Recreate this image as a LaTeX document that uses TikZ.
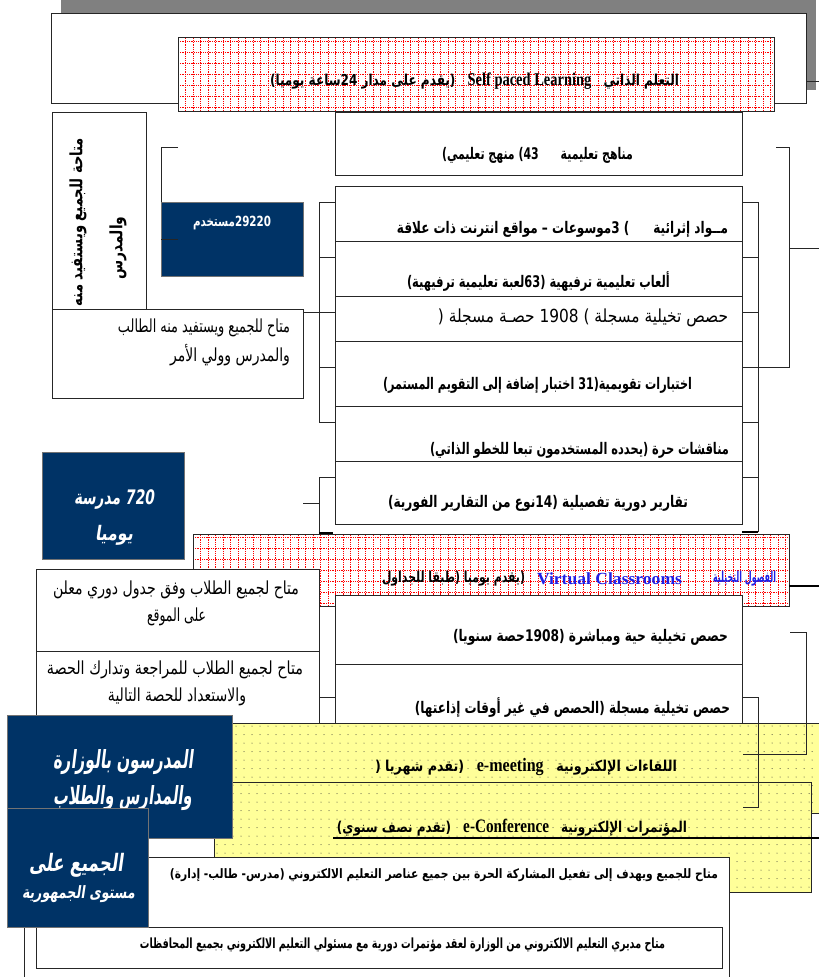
\documentclass[tikz,border=0pt]{standalone}
\usepackage{fontspec}
\usepackage{graphicx}
\usetikzlibrary{fit}
\TeXXeTstate=1
\newfontfamily\arab[Script=Arabic]{DejaVu Sans}
\newfontfamily\arabsl[Script=Arabic,FakeSlant=0.2]{DejaVu Sans Bold}
\newfontfamily\latserif{Liberation Serif}
\newcommand\RL[1]{\beginR #1\endR}
\newcommand\LR[1]{\beginL{#1}\endL{}}
% scale a line of text to a given width, keeping its height
\newcommand\fitw[2]{\resizebox{#1pt}{\height}{#2}}
% bold, regular and slanted Arabic lines: width, size, text
\newcommand\arb[3]{\fitw{#1}{\fontsize{#2}{#2}\arab\bfseries\RL{#3}}}
\newcommand\arr[3]{\fitw{#1}{\fontsize{#2}{#2}\arab\RL{#3}}}
\newcommand\ars[3]{\fitw{#1}{\fontsize{#2}{#2}\arabsl\RL{#3}}}
\definecolor{navy}{RGB}{0,51,102}
\definecolor{paleyellow}{RGB}{255,255,153}
\definecolor{vcblue}{RGB}{30,30,230}

\begin{document}
\begin{tikzpicture}[x=1pt,y=-1pt,
  ln/.style={draw=black!85,line width=0.9pt},
  thickln/.style={draw=black,line width=1.6pt},
  box/.style={ln,fill=white,inner sep=0pt,outer sep=0pt},
  navybox/.style={draw=black!55,line width=0.8pt,fill=navy,inner sep=0pt,outer sep=0pt},
  gridln/.style={red,line width=0.5pt,dash pattern=on 0.9pt off 0.9pt},
  redbox/.style={box,path picture={\draw[gridln,xstep=7.5pt,ystep=11pt]
      (path picture bounding box.south west) grid (path picture bounding box.north east);}},
  yelbox/.style={ln,fill=paleyellow,inner sep=0pt,outer sep=0pt,
    path picture={\foreach \i in {0,...,76}{\foreach \j in {0,...,13}{
      \fill[black!80] ([xshift=\i*8pt+3pt,yshift=-\j*8.5pt-3pt]path picture bounding box.north west) circle (0.5pt);}}}},
  shadowbox/.style={fill=black!50,inner sep=0pt,outer sep=0pt},
  txt/.style={inner sep=0pt,outer sep=0pt},
  wtxt/.style={txt,text=white}]
\useasboundingbox (0,0) rectangle (819,977);

% ---------- heading: self paced learning ----------
\node[shadowbox,fit={(61,-4) (816,90)}] (shadow) {};
\node[box,fit={(51,13) (806,103)}] (outer) {};
\coordinate (outerR) at (819,81);
\draw[ln] (outer.east |- outerR) -- (outerR);
\node[redbox,fit={(178,37) (774,111)}] (title) {};
\node[txt] (titletx) at (474.5,81) {\fitw{409}{\fontsize{15}{16}\arab\bfseries\RL{التعلم الذاتي\quad\LR{\fontsize{18}{19}\latserif\bfseries Self paced Learning}\quad (يقدم على مدار 24ساعة يوميا)}}};

% ---------- content boxes ----------
\node[box,fit={(335,112) (742,175)}] (m0) {};
\node[txt] at (537.5,155) {\arb{191}{16}{مناهج تعليمية\qquad 43) منهج تعليمي)}};
\node[box,fit={(335,186) (742,241)}] (b1) {};
\node[txt] at (562.5,229) {\arb{331}{16}{مــواد إثرائية\qquad ) 3موسوعات – مواقع انترنت ذات علاقة}};
\node[box,fit={(335,241) (742,296)}] (b2) {};
\node[txt] at (538.5,282) {\arb{263}{16}{ألعاب تعليمية ترفيهية (63لعبة تعليمية ترفيهية)}};
\node[box,fit={(335,296) (742,341)}] (b3) {};
\node[txt] at (583,318) {\arr{290}{18}{حصص تخيلية مسجلة ) 1908 حصـة مسجلة (}};
\node[box,fit={(335,341) (742,406)}] (b4) {};
\node[txt] at (537.5,385) {\arb{309}{16}{اختبارات تقويمية(31 اختبار إضافة إلى التقويم المستمر)}};
\node[box,fit={(335,406) (742,461)}] (b5) {};
\node[txt] at (579.5,450) {\arb{299}{16}{مناقشات حرة (يحدده المستخدمون تبعا للخطو الذاتي)}};
\node[box,fit={(335,461) (742,524)}] (b6) {};
\node[txt] at (538,503) {\arb{300}{16}{تقارير دورية تفصيلية (14نوع من التقارير الفورية)}};

% right brackets
\coordinate (rbar) at (758,0);
\coordinate (obar) at (789,0);
\coordinate (otop) at (776,147);
\coordinate (obot) at (789,367);
\coordinate (oout) at (819,248);
\draw[ln] (otop) -- (obar |- otop) -- (obot) -- (b4.east |- obot);
\draw[ln] (obar |- oout) -- (oout);
\draw[ln] (rbar |- 0,202) -- (rbar |- 0,532);
\foreach \yy in {202,257,312,367,422,477}
  \draw[ln] (m0.east |- 0,\yy) -- (rbar |- 0,\yy);
\draw[thickln] (b6.east |- 0,532) -- (rbar |- 0,532);

% left brackets
\coordinate (lbar) at (319,0);
\draw[ln] (b1.west |- 0,202) -- (lbar |- 0,202) -- (lbar |- 0,422) -- (b4.west |- 0,422);
\foreach \yy in {257,312,367}
  \draw[ln] (lbar |- 0,\yy) -- (b1.west |- 0,\yy);
\coordinate (s6top) at (319,477);
\coordinate (s6mid) at (303,503);
\coordinate (s6bot) at (319,533);
\draw[ln] (b6.west |- s6top) -- (s6top) -- (s6bot);
\draw[ln] (s6mid) -- (s6top |- s6mid);
\draw[thickln] (s6bot) -- (333,533);

% ---------- left column ----------
\node[box,fit={(52,112) (146,309)}] (vbox) {};
\node[txt,rotate=90] at (78,222) {\arb{168}{17}{متاحة للجميع ويستفيد منه}};
\node[txt,rotate=90] at (118,248) {\arb{63}{17}{والمدرس}};
\coordinate (ntop) at (178,147);
\coordinate (nmid) at (178,239);
\draw[ln] (ntop) -- (161,147) -- (161,239);
\node[navybox,fit={(161,202) (303,276)}] (users) {};
\draw[ln] (users.west |- nmid) -- (nmid);
\node[wtxt] at (232,223) {\arb{78}{14}{29220مستخدم}};
\draw[ln] (vbox.east |- 0,312) -- (lbar |- 0,312);

\node[box,fit={(52,309) (303,398)}] (share) {};
\node[txt] at (204,328) {\arr{172}{18}{متاح للجميع ويستفيد منه الطالب}};
\node[txt] at (230,355) {\arr{120}{18}{والمدرس وولي الأمر}};

\node[navybox,fit={(42,452) (184,559)}] (schools) {};
\node[wtxt] at (114,500) {\ars{80}{20}{720 مدرسة}};
\node[wtxt] at (114,535) {\ars{38}{20}{يوميا}};

% ---------- virtual classrooms ----------
\node[redbox,fit={(193,534) (789,606)}] (vc) {};
\node[txt,text=vcblue] at (744.5,579) {\arb{63}{15}{الفصول التخيلية}};
\node[txt,text=vcblue] at (609.5,579) {\fitw{145}{\fontsize{17}{18}\latserif\bfseries Virtual Classrooms}};
\node[txt] at (453.5,579) {\arb{143}{15}{(يقدم يوميا (طبقا للجداول}};
\coordinate (vcout) at (819,586);
\draw[draw=black,line width=1.3pt] (vc.east |- vcout) -- (vcout);

\node[box,fit={(36,569) (319,651)}] (w1) {};
\node[txt] at (176,590) {\arr{246}{18}{متاح لجميع الطلاب وفق جدول دوري معلن}};
\node[txt] at (176.5,617) {\arr{59}{18}{على الموقع}};
\node[box,fit={(36,651) (319,740)}] (w2) {};
\node[txt] at (175,670) {\arr{256}{18}{متاح لجميع الطلاب للمراجعة وتدارك الحصة}};
\node[txt] at (177,697) {\arr{138}{18}{والاستعداد للحصة التالية}};

\node[box,fit={(335,595) (742,664)}] (v1) {};
\node[txt] at (590.5,637) {\arb{275}{16}{حصص تخيلية حية ومباشرة (1908حصة سنويا)}};
\node[box,fit={(335,664) (742,740)}] (v2) {};
\node[txt] at (572.5,708) {\arb{315}{16}{حصص تخيلية مسجلة (الحصص في غير أوقات إذاعتها)}};
\draw[ln] (w2.east |- 0,697) -- (v2.west |- 0,697);

% ---------- electronic meetings and conferences ----------
\node[yelbox,fit={(225,723) (826,813)}] (y1) {};
\node[txt] at (526,767) {\fitw{302}{\fontsize{15}{16}\arab\bfseries\RL{اللقاءات الإلكترونية\quad\LR{\fontsize{19}{20}\latserif e-meeting}\quad (تقدم شهريا (}}};
\node[yelbox,fit={(214,782) (811,892)}] (y2) {};
\node[txt] at (512,828) {\fitw{350}{\fontsize{15}{16}\arab\bfseries\RL{المؤتمرات الإلكترونية\quad\LR{\fontsize{19}{20}\latserif e-Conference}\quad (تقدم نصف سنوي)}}};
\coordinate (confL) at (333,838);
\coordinate (confR) at (819,838);
\draw[draw=black,line width=1.3pt] (confL) -- (confR);

% brackets over the yellow boxes
\coordinate (mbar) at (758,697);
\coordinate (mbot) at (758,807);
\draw[ln] (v2.east |- mbar) -- (mbar) -- (mbot) -- (743,807);
\coordinate (ebar) at (806,632);
\coordinate (ebot) at (806,754);
\draw[ln] (790,632) -- (ebar) -- (ebot) -- (743,754);

% ---------- bottom ----------
\node[box,fit={(24,857) (729,990)}] (w3) {};
\node[txt] at (444,875) {\arb{548}{13}{متاح للجميع ويهدف إلى تفعيل المشاركة الحرة بين جميع عناصر التعليم الالكتروني (مدرس- طالب- إدارة)}};
\node[box,fit={(36,927) (722,968)}] (bot) {};
\node[txt] at (402.5,945) {\arb{525}{14}{متاح مديري التعليم الالكتروني من الوزارة لعقد مؤتمرات دورية مع مسئولي التعليم الالكتروني بجميع المحافظات}};

\node[navybox,fit={(7,715) (232,838)}] (staff) {};
\node[wtxt] at (123,762) {\ars{140}{25}{المدرسون بالوزارة}};
\node[wtxt] at (122.5,798) {\ars{139}{25}{والمدارس والطلاب}};
\node[navybox,fit={(7,808) (148,927)}] (everyone) {};
\node[wtxt] at (76,865) {\ars{94}{24}{الجميع على}};
\node[wtxt] at (78.5,894) {\ars{113}{17}{مستوى الجمهورية}};
\end{tikzpicture}
\end{document}
